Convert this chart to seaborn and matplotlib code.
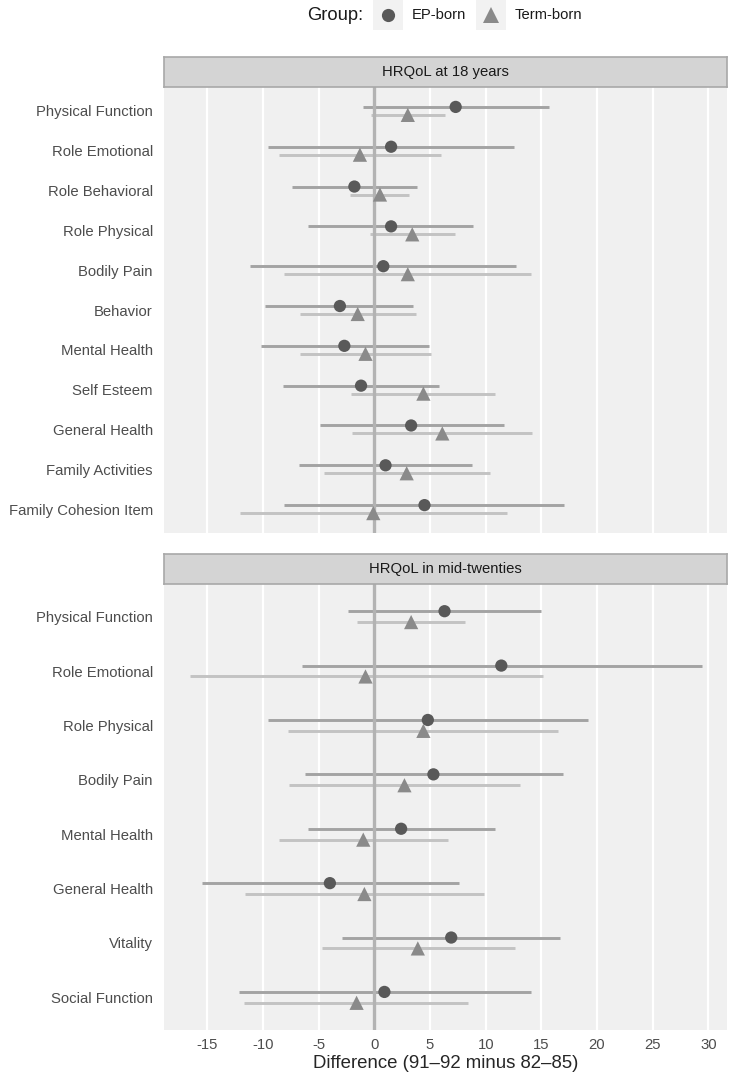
import numpy as np
import pandas as pd
import seaborn as sns
import matplotlib.pyplot as plt
from matplotlib.patches import Rectangle
from matplotlib.lines import Line2D

# Data: HRQoL differences (91-92 minus 82-85), point estimate and CI
top_labels = ["Physical Function", "Role Emotional", "Role Behavioral", "Role Physical",
              "Bodily Pain", "Behavior", "Mental Health", "Self Esteem",
              "General Health", "Family Activities", "Family Cohesion Item"]
top_ep = [7.3, 1.5, -1.8, 1.5, 0.8, -3.1, -2.7, -1.2, 3.3, 1.0, 4.5]
top_ep_lo = [-1.0, -9.6, -7.4, -6.0, -11.2, -9.8, -10.2, -8.2, -4.9, -6.8, -8.1]
top_ep_hi = [15.7, 12.5, 3.8, 8.9, 12.7, 3.5, 4.9, 5.8, 11.6, 8.8, 17.0]
top_term = [3.0, -1.3, 0.5, 3.4, 3.0, -1.5, -0.8, 4.4, 6.1, 2.9, -0.1]
top_term_lo = [-0.3, -8.6, -2.2, -0.4, -8.1, -6.7, -6.7, -2.1, -2.0, -4.5, -12.1]
top_term_hi = [6.3, 6.0, 3.1, 7.2, 14.1, 3.7, 5.1, 10.8, 14.2, 10.4, 11.9]

bot_labels = ["Physical Function", "Role Emotional", "Role Physical", "Bodily Pain",
              "Mental Health", "General Health", "Vitality", "Social Function"]
bot_ep = [6.3, 11.4, 4.8, 5.3, 2.4, -4.0, 6.9, 0.9]
bot_ep_lo = [-2.35, -6.5, -9.6, -6.2, -6.0, -15.5, -2.9, -12.2]
bot_ep_hi = [15.0, 29.4, 19.2, 16.9, 10.8, 7.6, 16.7, 14.1]
bot_term = [3.3, -0.8, 4.4, 2.7, -1.0, -0.9, 3.9, -1.6]
bot_term_lo = [-1.6, -16.6, -7.8, -7.7, -8.6, -11.6, -4.7, -11.7]
bot_term_hi = [8.1, 15.1, 16.5, 13.1, 6.6, 9.8, 12.6, 8.4]

panels = ["HRQoL at 18 years", "HRQoL in mid-twenties"]


def long_frame(labels, ep, ep_lo, ep_hi, term, term_lo, term_hi):
    rows = []
    for i, lab in enumerate(labels):
        rows.append((lab, i - 0.1, "EP-born", ep[i], ep_lo[i], ep_hi[i]))
        rows.append((lab, i + 0.1, "Term-born", term[i], term_lo[i], term_hi[i]))
    return pd.DataFrame(rows, columns=["item", "ypos", "group", "diff", "lo", "hi"])


frames = [long_frame(top_labels, top_ep, top_ep_lo, top_ep_hi, top_term, top_term_lo, top_term_hi),
          long_frame(bot_labels, bot_ep, bot_ep_lo, bot_ep_hi, bot_term, bot_term_lo, bot_term_hi)]
labels_all = [top_labels, bot_labels]

sns.set_style("white")
plt.rcParams['font.family'] = ['Liberation Sans', 'DejaVu Sans']

point_col = {"EP-born": "#595959", "Term-born": "#8a8a8a"}
line_col = {"EP-born": "#a3a3a3", "Term-born": "#c3c3c3"}
marker = {"EP-born": "o", "Term-born": "^"}
msize = {"EP-born": 78, "Term-born": 105}

# common x range with 5% expansion like the original
all_lo = min(pd.concat(frames)["lo"])
all_hi = max(pd.concat(frames)["hi"])
pad = 0.05 * (all_hi - all_lo)
xlim = (all_lo - pad, all_hi + pad)

W, H = 734, 1076
fig = plt.figure(figsize=(W / 100, H / 100), dpi=100)

left, right = 164, 727.3
panel_tops = [87, 584]
strip_tops = [57, 554]
panel_h = 446

for k, df in enumerate(frames):
    ax = fig.add_axes([left / W, 1 - (panel_tops[k] + panel_h) / H,
                       (right - left) / W, panel_h / H])
    ax.set_facecolor("#f0f0f0")
    for x in range(-15, 35, 5):
        ax.axvline(x, color="white", lw=1.6, zorder=0)
    for g, sub in df.groupby("group"):
        ax.hlines(sub["ypos"], sub["lo"], sub["hi"], color=line_col[g], lw=2.1, zorder=1.5)
    ax.axvline(0, color="#b3b3b3", lw=2.4, zorder=2)
    for g, sub in df.groupby("group"):
        sns.scatterplot(data=sub, x="diff", y="ypos", marker=marker[g], s=msize[g],
                        color=point_col[g], edgecolor="none", linewidth=0, ax=ax, zorder=3)
    n = len(labels_all[k])
    ax.set_ylim(n - 1 + 0.6, -0.6)
    ax.set_xlim(xlim)
    ax.set_yticks(range(n))
    ax.set_yticklabels(labels_all[k], fontsize=10.7, color="#4d4d4d")
    ax.tick_params(axis="y", length=0, pad=8)
    ax.set_ylabel("")
    for s in ax.spines.values():
        s.set_visible(False)
    if k == 1:
        ax.set_xticks(range(-15, 35, 5))
        ax.set_xticklabels([str(v) for v in range(-15, 35, 5)], fontsize=10.7, color="#4d4d4d")
        ax.tick_params(axis="x", length=3, width=1, color="#333333", pad=3)
        ax.set_xlabel("Difference (91\u201392 minus 82\u201385)", fontsize=13.4, labelpad=2)
    else:
        ax.set_xticks([])
        ax.set_xlabel("")

    # facet strip
    sax = fig.add_axes([left / W, 1 - (strip_tops[k] + 30) / H, (right - left) / W, 30 / H])
    sax.set_facecolor("#d4d4d4")
    sax.set_xticks([])
    sax.set_yticks([])
    for s in sax.spines.values():
        s.set_color("#a8a8a8")
        s.set_linewidth(1.2)
    sax.text(0.5, 0.5, panels[k], ha="center", va="center", fontsize=10.7,
             color="#1a1a1a", transform=sax.transAxes)

# legend on top
ly = 1 - 15 / H
fig.text(307 / W, ly, "Group:", fontsize=13.2, ha="left", va="center", color="#1a1a1a")
for cx, g, tx in [(388, "EP-born", 412), (491, "Term-born", 515)]:
    fig.patches.append(Rectangle(((cx - 15) / W, 1 - 30 / H), 30 / W, 30 / H,
                                 transform=fig.transFigure, facecolor="#f2f2f2",
                                 edgecolor="none"))
    fig.lines.append(Line2D([cx / W], [ly], transform=fig.transFigure, marker=marker[g],
                            markersize=9.5 if g == "EP-born" else 11,
                            color=point_col[g], markeredgewidth=0, linestyle="none"))
    fig.text(tx / W, ly, g, fontsize=10.6, ha="left", va="center", color="#1a1a1a")

fig.savefig("out.png", dpi=100)
